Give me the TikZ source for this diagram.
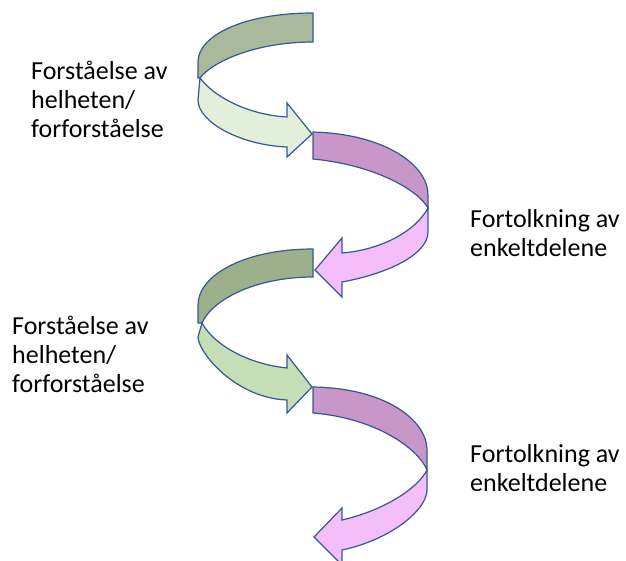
\documentclass[tikz,border=0pt]{standalone}
\usepackage{fontspec}
\setmainfont{Carlito}
\tikzset{>=latex}
\definecolor{edgeblue}{RGB}{52,88,148}
\definecolor{greenback}{RGB}{169,185,155}
\definecolor{greenfront}{RGB}{226,239,218}
\definecolor{greenbackb}{RGB}{157,176,140}
\definecolor{greenfrontb}{RGB}{197,222,181}
\definecolor{pinkback}{RGB}{200,150,200}
\definecolor{pinkfront}{RGB}{244,190,250}
\tikzset{
  band/.style={draw=edgeblue, line width=1.2pt},
  steptext/.style={font=\fontsize{26}{29}\selectfont, align=left, anchor=base west, inner sep=0pt}
}

\begin{document}
\begin{tikzpicture}[x=1pt, y=-1pt]
  \useasboundingbox (0,0) rectangle (626,560);

  \draw[band, fill=greenback] (313,13) .. controls (245,13) and (198,35) .. (198,62) -- (198,78) -- (200,78) .. controls (212,62) and (255,42) .. (313,42) -- cycle;
  \draw[band, fill=greenfront] (200,78) .. controls (215,98) and (250,115) .. (287,117) -- (287,103) -- (312,134) -- (287,157) -- (287,147) .. controls (240,145) and (198,122) .. (198,100) -- cycle;

  \draw[band, fill=pinkback] (313,132) .. controls (385,134) and (428,165) .. (428,195) -- (428,208) .. controls (418,190) and (375,165) .. (313,159) -- cycle;
  \draw[band, fill=pinkfront] (428,208) .. controls (415,232) and (380,250) .. (342,253) -- (342,238) -- (315,270) -- (342,297) -- (342,282) .. controls (395,272) and (428,252) .. (428,232) -- cycle;

  \draw[band, fill=greenbackb] (313,249) .. controls (245,249) and (198,275) .. (198,305) -- (198,323) -- (202,323) .. controls (212,300) and (255,277) .. (313,277) -- cycle;
  \draw[band, fill=greenfrontb] (202,323) .. controls (214,345) and (248,364) .. (287,368) -- (287,355) -- (312,387) -- (287,413) -- (287,400) .. controls (235,398) and (198,352) .. (198,337) -- cycle;

  \draw[band, fill=pinkback] (313,387) .. controls (385,388) and (427,420) .. (427,450) -- (427,470) .. controls (418,448) and (375,418) .. (313,413) -- cycle;
  \draw[band, fill=pinkfront] (427,470) .. controls (418,488) and (385,510) .. (342,520) -- (342,508) -- (314,537) -- (342,565) -- (342,550) .. controls (390,540) and (427,510) .. (427,490) -- cycle;

  \node[steptext] (whole1) at (31,137) {Forståelse av\\helheten/\\forforståelse};
  \node[steptext] (parts1) at (470,256) {Fortolkning av\\enkeltdelene};
  \node[steptext] (whole2) at (12,392) {Forståelse av\\helheten/\\forforståelse};
  \node[steptext] (parts2) at (470,491) {Fortolkning av\\enkeltdelene};
\end{tikzpicture}
\end{document}
